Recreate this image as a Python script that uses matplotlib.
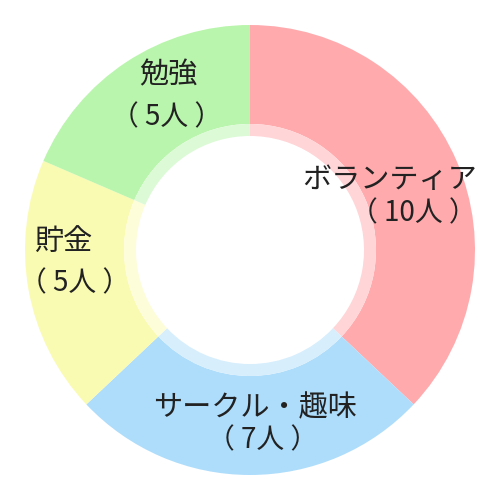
import matplotlib.pyplot as plt
from matplotlib.colors import to_rgb

plt.rcParams["font.family"] = ["Noto Sans CJK JP", "DejaVu Sans"]

labels = ["ボランティア", "サークル・趣味", "貯金", "勉強"]
counts = [10, 7, 5, 5]
colors = ["#FFABAE", "#AEDDFB", "#FAFBB2", "#B9F5AC"]

# label placement in pixels from the centre: (name x, name y, count x, count y)
label_pos = [
    (140, 70, 163, 37),
    (5, -158, 13, -190),
    (-187, 7, -175, -33),
    (-82, 175, -83, 133),
]


def lighten(color, amount=0.5):
    r, g, b = to_rgb(color)
    return (r + (1 - r) * amount, g + (1 - g) * amount, b + (1 - b) * amount)


fig = plt.figure(figsize=(5, 5), dpi=100)
ax = fig.add_axes([0, 0, 1, 1])
ax.set_aspect("equal")
ax.axis("off")

ax.pie(counts, colors=colors, startangle=90, counterclock=False,
       radius=225, wedgeprops=dict(width=99, linewidth=0))
ax.pie(counts, colors=[lighten(c, 0.5) for c in colors], startangle=90,
       counterclock=False, radius=126, wedgeprops=dict(width=12, linewidth=0))
ax.set_xlim(-250, 250)
ax.set_ylim(-250, 250)

for name, n, (nx, ny, cx, cy) in zip(labels, counts, label_pos):
    ax.text(nx, ny, name, ha="center", va="center", fontsize=21, color="#222222")
    ax.text(cx, cy, f"（ {n}人 ）", ha="center", va="center", fontsize=20,
            color="#222222")

fig.savefig("out.png", dpi=100, facecolor="white")
